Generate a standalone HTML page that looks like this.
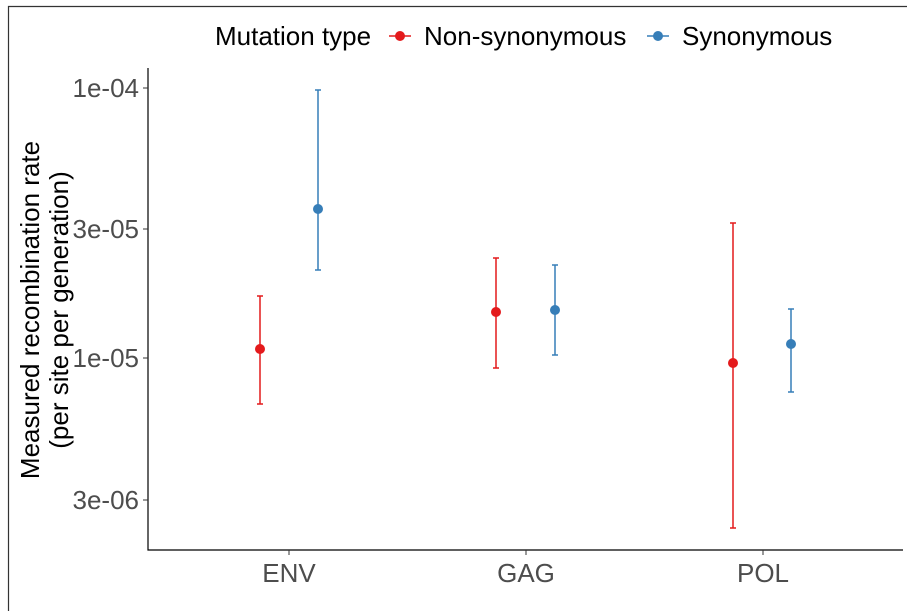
<!DOCTYPE html>
<html><head><meta charset="utf-8"><style>body{margin:0;background:#fff}</style></head><body>
<svg width="907" height="611" xmlns="http://www.w3.org/2000/svg" font-family="Liberation Sans, sans-serif">
<rect width="907" height="611" fill="#fff"/>
<path d="M8.5,611 V6.5 H907" fill="none" stroke="#333" stroke-width="1.2"/>
<g font-size="26" fill="#000">
<text x="215" y="45">Mutation type</text>
<line x1="389" y1="36" x2="411" y2="36" stroke="#E41A1C" stroke-width="1.5"/><circle cx="400" cy="36" r="5" fill="#E41A1C"/>
<text x="424" y="45">Non-synonymous</text>
<line x1="647" y1="36" x2="669" y2="36" stroke="#377EB8" stroke-width="1.5"/><circle cx="658" cy="36" r="5" fill="#377EB8"/>
<text x="682" y="45">Synonymous</text>
</g>
<path d="M148,68 V550 H903" fill="none" stroke="#000" stroke-width="1.2"/>
<g stroke="#333"><line x1="143" y1="88" x2="148" y2="88"/><line x1="143" y1="229" x2="148" y2="229"/><line x1="143" y1="358" x2="148" y2="358"/><line x1="143" y1="500" x2="148" y2="500"/>
<line x1="289" y1="550" x2="289" y2="555"/><line x1="526" y1="550" x2="526" y2="555"/><line x1="763" y1="550" x2="763" y2="555"/></g>
<g font-size="26" fill="#4d4d4d" text-anchor="end"><text x="139" y="97">1e-04</text><text x="139" y="238">3e-05</text><text x="139" y="367">1e-05</text><text x="139" y="509">3e-06</text></g>
<g font-size="26" fill="#4d4d4d" text-anchor="middle"><text x="289" y="582">ENV</text><text x="526" y="582">GAG</text><text x="763" y="582">POL</text></g>
<g font-size="26" fill="#000" text-anchor="middle"><text transform="translate(39,310) rotate(-90)">Measured recombination rate</text><text transform="translate(68,310) rotate(-90)">(per site per generation)</text></g>
<g stroke-width="1.5">
<g stroke="#E41A1C"><path d="M260,296V404M257,296h6M257,404h6"/><path d="M496,258V368M493,258h6M493,368h6"/><path d="M733,223V528M730,223h6M730,528h6"/></g>
<g stroke="#377EB8"><path d="M318,90V270M315,90h6M315,270h6"/><path d="M555,265V355M552,265h6M552,355h6"/><path d="M791,309V392M788,309h6M788,392h6"/></g>
</g>
<g fill="#E41A1C"><circle cx="260" cy="349" r="5"/><circle cx="496" cy="312" r="5"/><circle cx="733" cy="363" r="5"/></g>
<g fill="#377EB8"><circle cx="318" cy="209" r="5"/><circle cx="555" cy="310" r="5"/><circle cx="791" cy="344" r="5"/></g>
</svg>
</body></html>
